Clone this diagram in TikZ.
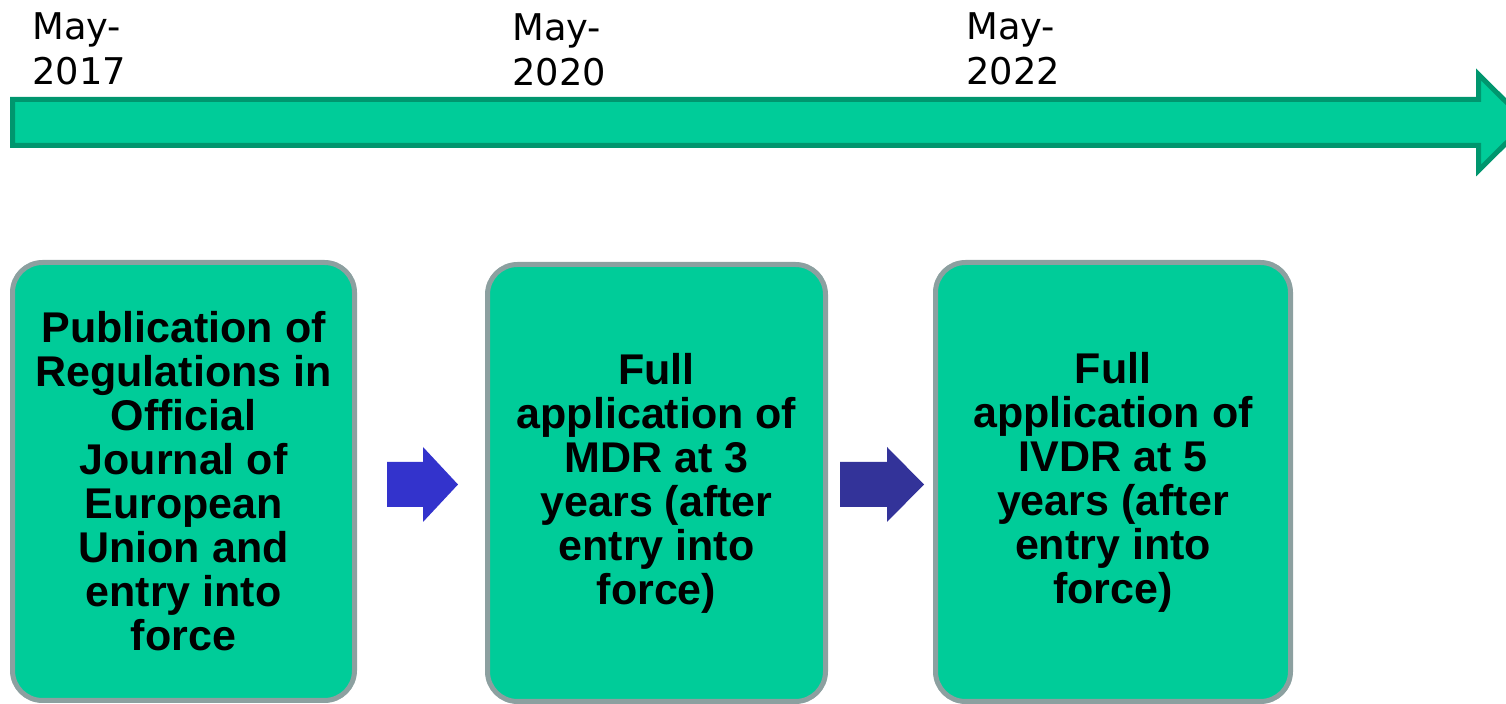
\documentclass[tikz,border=0pt]{standalone}
\usepackage{fontspec}
\setmainfont{Liberation Sans}
\newfontfamily\datefont{DejaVu Sans}
\definecolor{tlfill}{RGB}{0,204,153}
\definecolor{tlline}{RGB}{0,150,110}
\definecolor{boxline}{RGB}{140,160,160}
\definecolor{blueA}{RGB}{51,51,204}
\definecolor{blueB}{RGB}{51,51,153}
\begin{document}
\begin{tikzpicture}[x=0.5pt,y=-0.5pt,
  timeline/.style={fill=tlfill,draw=tlline,line width=2.5pt,line join=miter},
  stage/.style={draw=boxline,fill=tlfill,line width=2.5pt,rounded corners=15pt,
    align=center,inner sep=0pt,font=\bfseries\fontsize{21.5pt}{22pt}\selectfont},
  datelabel/.style={anchor=north west,inner sep=0pt,align=left,
    font=\datefont\fontsize{18.4pt}{22.5pt}\selectfont}]
\useasboundingbox (0,0) rectangle (1506,704);
\begin{scope}
\clip (0,0) rectangle (1506,704);
\draw[timeline] (12.5,99.5) -- (1478.5,99.5) -- (1478.5,74.5) -- (1527,122.5) -- (1478.5,170.5) -- (1478.5,145.5) -- (12.5,145.5) -- cycle;
\end{scope}
\node[datelabel] (d1) at (32,12) {May-\\2017};
\node[datelabel] (d2) at (512,13) {May-\\2020};
\node[datelabel] (d3) at (966,12) {May-\\2022};
\node[stage,minimum width=171pt,minimum height=219pt] (s1) at (183.5,481.5)
  {Publication of\\Regulations in\\Official\\Journal of\\European\\Union and\\entry into\\force};
\node[stage,minimum width=169pt,minimum height=218.5pt] (s2) at (656.5,483)
  {Full\\application of\\MDR at 3\\years (after\\entry into\\force)};
\node[stage,minimum width=177.5pt,minimum height=219.5pt] (s3) at (1113,482)
  {Full\\application of\\IVDR at 5\\years (after\\entry into\\force)};
\fill[blueA] (387,462) -- (423,462) -- (423,447) -- (458,484.5) -- (423,522) -- (423,507) -- (387,507) -- cycle;
\fill[blueB] (840,462) -- (887,462) -- (887,447) -- (924,484.5) -- (887,522) -- (887,507) -- (840,507) -- cycle;
\end{tikzpicture}
\end{document}
